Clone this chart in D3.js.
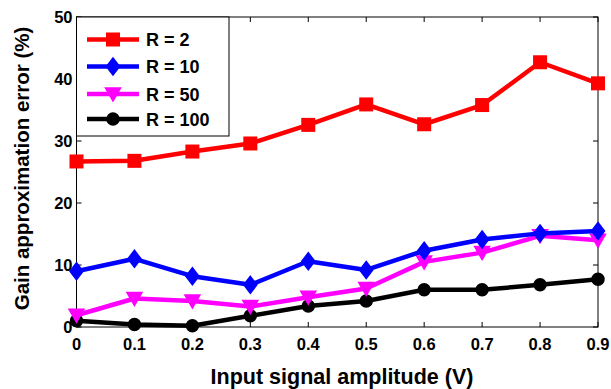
<!DOCTYPE html>
<html>
<head>
<meta charset="utf-8">
<script src="https://cdn.jsdelivr.net/npm/d3@7"></script>
<style>
  html, body { margin: 0; padding: 0; background: #fff; }
  svg { display: block; }
  text { font-family: "Liberation Sans", Arial, Helvetica, sans-serif; font-weight: bold; }
</style>
</head>
<body>
<svg id="chart" width="611" height="389"></svg>
<script>
// Input amplitudes (V)
const amplitudes = [0, 0.1, 0.2, 0.3, 0.4, 0.5, 0.6, 0.7, 0.8, 0.9];

// Gain approximation error (%) for each R
const errR2   = [26.7, 26.8, 28.3, 29.6, 32.6, 35.9, 32.7, 35.8, 42.7, 39.3];
const errR10  = [9.0, 11.0, 8.2, 6.8, 10.6, 9.2, 12.3, 14.1, 15.1, 15.5];
const errR50  = [1.9, 4.6, 4.2, 3.3, 4.8, 6.2, 10.5, 12.0, 14.7, 14.0];
const errR100 = [1.0, 0.4, 0.2, 1.8, 3.4, 4.2, 6.0, 6.0, 6.8, 7.7];

const seriesNames = ["R = 2", "R = 10", "R = 50", "R = 100"];
const xTickLabels = ["0", "0.1", "0.2", "0.3", "0.4", "0.5", "0.6", "0.7", "0.8", "0.9"];
const yTicks = [0, 10, 20, 30, 40, 50];

const series = [
  { name: seriesNames[0], values: errR2,   color: "#ff0000", marker: "square" },
  { name: seriesNames[1], values: errR10,  color: "#0000ff", marker: "diamond" },
  { name: seriesNames[2], values: errR50,  color: "#ff00ff", marker: "triangleDown" },
  { name: seriesNames[3], values: errR100, color: "#000000", marker: "circle" }
];

const svg = d3.select("#chart");
const plotLeft = 76.5, plotRight = 598, plotTop = 17, plotBottom = 327;

const x = d3.scaleLinear().domain([0, 0.9]).range([plotLeft, plotRight]);
const y = d3.scaleLinear().domain([0, 50]).range([plotBottom, plotTop]);

// Frame with inward ticks on all four sides
const tickLen = 5;
const axisG = svg.append("g");
axisG.append("rect")
  .attr("x", plotLeft).attr("y", plotTop)
  .attr("width", plotRight - plotLeft).attr("height", plotBottom - plotTop)
  .attr("fill", "none").attr("stroke", "#000").attr("stroke-width", 1);

amplitudes.forEach(v => {
  axisG.append("line").attr("x1", x(v)).attr("x2", x(v))
    .attr("y1", plotBottom).attr("y2", plotBottom - tickLen).attr("stroke", "#000");
  axisG.append("line").attr("x1", x(v)).attr("x2", x(v))
    .attr("y1", plotTop).attr("y2", plotTop + tickLen).attr("stroke", "#000");
});
yTicks.forEach(v => {
  axisG.append("line").attr("x1", plotLeft).attr("x2", plotLeft + tickLen)
    .attr("y1", y(v)).attr("y2", y(v)).attr("stroke", "#000");
  axisG.append("line").attr("x1", plotRight).attr("x2", plotRight - tickLen)
    .attr("y1", y(v)).attr("y2", y(v)).attr("stroke", "#000");
});

// Tick labels
axisG.selectAll(".xt").data(amplitudes).enter().append("text")
  .attr("x", (d) => x(d)).attr("y", 350)
  .attr("text-anchor", "middle").attr("font-size", 16.5)
  .text((d, i) => xTickLabels[i]);

axisG.selectAll(".yt").data(yTicks).enter().append("text")
  .attr("x", plotLeft - 4).attr("y", d => y(d) + 6)
  .attr("text-anchor", "end").attr("font-size", 16.5)
  .text(d => d);

// Axis titles
svg.append("text")
  .attr("x", 342).attr("y", 383.5)
  .attr("text-anchor", "middle").attr("font-size", 21.5)
  .text("Input signal amplitude (V)");

svg.append("text")
  .attr("transform", "translate(29,168.5) rotate(-90)")
  .attr("text-anchor", "middle").attr("font-size", 20.5)
  .text("Gain approximation error (%)");

// Marker drawing
function drawMarker(g, type, cx, cy, color) {
  if (type === "square") {
    g.append("rect").attr("x", cx - 6).attr("y", cy - 6).attr("width", 12).attr("height", 12)
      .attr("fill", color).attr("stroke", color).attr("stroke-width", 2);
  } else if (type === "diamond") {
    g.append("path")
      .attr("d", `M${cx},${cy - 8.5}L${cx + 6.5},${cy}L${cx},${cy + 8.5}L${cx - 6.5},${cy}Z`)
      .attr("fill", color).attr("stroke", color).attr("stroke-width", 1.5);
  } else if (type === "triangleDown") {
    g.append("path")
      .attr("d", `M${cx - 7.5},${cy - 6}L${cx + 7.5},${cy - 6}L${cx},${cy + 7}Z`)
      .attr("fill", color).attr("stroke", color).attr("stroke-width", 1.5);
  } else {
    g.append("circle").attr("cx", cx).attr("cy", cy).attr("r", 6)
      .attr("fill", color).attr("stroke", color).attr("stroke-width", 1.5);
  }
}

// Series lines and markers
const line = d3.line().x((d, i) => x(amplitudes[i])).y(d => y(d));
const plotG = svg.append("g");
series.slice().reverse().forEach(s => {
  const g = plotG.append("g");
  g.append("path").datum(s.values)
    .attr("d", line).attr("fill", "none")
    .attr("stroke", s.color).attr("stroke-width", 4.5)
    .attr("stroke-linejoin", "round");
  s.values.forEach((v, i) => drawMarker(g, s.marker, x(amplitudes[i]), y(v), s.color));
});

// Legend
const legendG = svg.append("g");
legendG.append("rect")
  .attr("x", plotLeft).attr("y", plotTop).attr("width", 229 - plotLeft).attr("height", 136 - plotTop)
  .attr("fill", "#fff").attr("stroke", "#000").attr("stroke-width", 1);
const legendYs = [39.5, 66.5, 94, 119];
series.forEach((s, i) => {
  const ly = legendYs[i];
  legendG.append("line").attr("x1", 87).attr("x2", 139).attr("y1", ly).attr("y2", ly)
    .attr("stroke", s.color).attr("stroke-width", 4.5);
  drawMarker(legendG, s.marker, 113, ly, s.color);
  legendG.append("text").attr("x", 146).attr("y", ly + 6.5)
    .attr("font-size", 18).text(s.name);
});
</script>
</body>
</html>
